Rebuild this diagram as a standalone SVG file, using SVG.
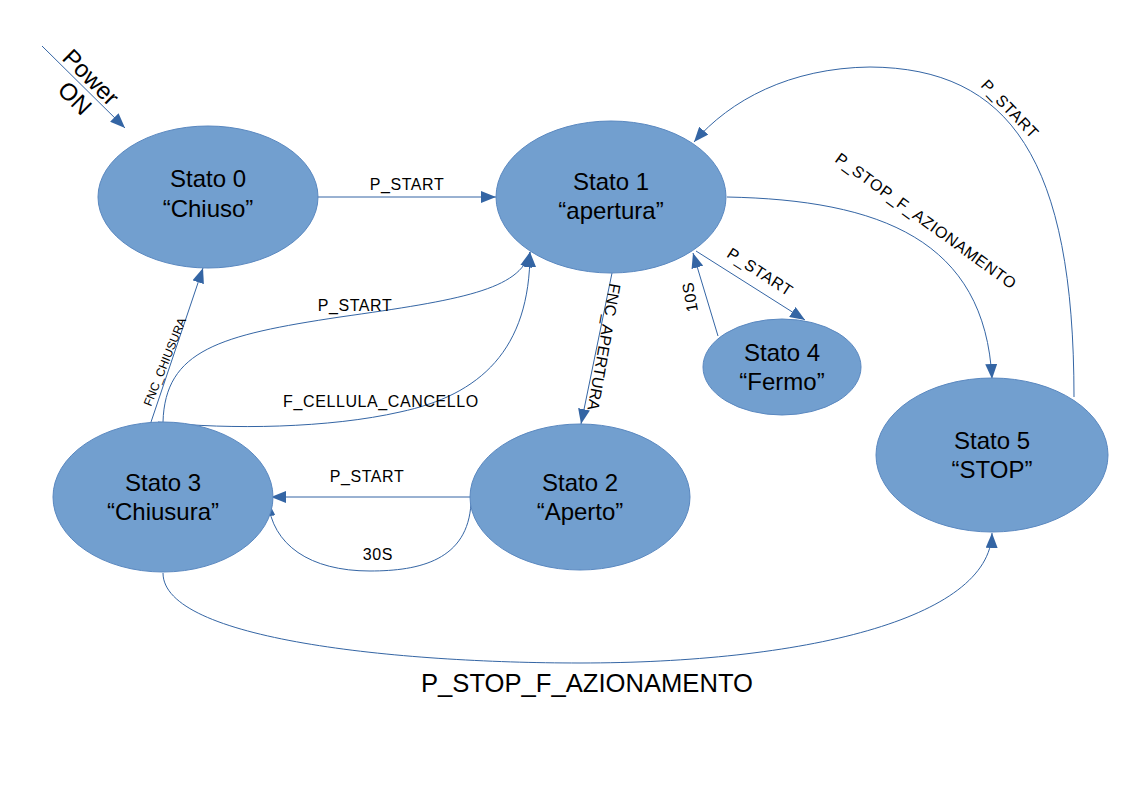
<svg xmlns="http://www.w3.org/2000/svg" width="1123" height="794" viewBox="0 0 1123 794">
<style>
.node{fill:#729fcf;stroke:#5a88c0;stroke-width:1}
.nt{font-family:"Liberation Sans",Arial,sans-serif;font-size:24px;fill:#000;text-anchor:middle}
.edge{fill:none;stroke:#3465a4;stroke-width:1;marker-end:url(#arr)}
.lbl{font-family:"Liberation Sans",Arial,sans-serif;font-size:16px;fill:#000;text-anchor:middle;letter-spacing:0.6px}
.lblc{font-family:"Liberation Sans",Arial,sans-serif;fill:#000;text-anchor:middle;dominant-baseline:central}
</style>
<defs>
<marker id="arr" markerUnits="userSpaceOnUse" markerWidth="15" markerHeight="12" refX="15" refY="6" orient="auto">
<path d="M0,0 L15,6 L0,12 z" fill="#3465a4"/>
</marker>
</defs>
<rect width="1123" height="794" fill="#fff"/>
<g id="connectors">
<path class="edge" d="M42,46 L125,128"/>
<path class="edge" d="M318,197 L496,197"/>
<path class="edge" d="M727,197 C880,200 985,240 992,379"/>
<path class="edge" d="M1074,397 C1074,160 1010,68 870,67 C790,68 730,100 694,142"/>
<path class="edge" d="M696,251 L805,320"/>
<path class="edge" d="M718,336 L693,253"/>
<path class="edge" d="M612,273 L581,424"/>
<path class="edge" d="M470,497 L271,497"/>
<path class="edge" d="M471,503 C468,560 420,571 370,571 C310,571 272,545 268,501"/>
<path class="edge" d="M150,425 L203,268"/>
<path class="edge" d="M163,422 C165,350 220,335 340,317 C460,300 520,290 530,252"/>
<path class="edge" d="M158,422 C230,430 330,428 400,412 C480,395 530,350 530,252"/>
<path class="edge" d="M163,573 C163,640 400,663 580,663 C800,663 990,620 992,533"/>
</g>
<g id="labels">
<text class="lblc" font-size="24" transform="translate(91,77) rotate(45)">Power</text>
<text class="lblc" font-size="24" transform="translate(75,98) rotate(45)">ON</text>
<text class="lbl" x="407" y="190">P_START</text>
<text class="lblc" font-size="16" letter-spacing="0.6" transform="translate(926,221) rotate(36)">P_STOP_F_AZIONAMENTO</text>
<text class="lblc" font-size="16" letter-spacing="0.6" transform="translate(1010,109) rotate(46)">P_START</text>
<text class="lblc" font-size="16" letter-spacing="0.6" transform="translate(760,272) rotate(33)">P_START</text>
<text class="lblc" font-size="16" letter-spacing="0.6" transform="translate(690,297) rotate(-100)">10S</text>
<text class="lblc" font-size="16" transform="translate(604,347) rotate(100)">FNC_APERTURA</text>
<text class="lbl" x="367" y="482">P_START</text>
<text class="lbl" x="378" y="560">30S</text>
<text class="lblc" font-size="12" transform="translate(165,362) rotate(-68)">FNC_CHIUSURA</text>
<text class="lbl" x="355" y="311">P_START</text>
<text class="lbl" x="381" y="407">F_CELLULA_CANCELLO</text>
<text x="587" y="692" font-family="'Liberation Sans',Arial,sans-serif" font-size="26" text-anchor="middle" textLength="332" lengthAdjust="spacingAndGlyphs">P_STOP_F_AZIONAMENTO</text>
</g>
<g id="stato0">
<ellipse class="node" cx="208" cy="197" rx="110" ry="71"/>
<text class="nt" x="208" y="187">Stato 0</text>
<text class="nt" x="208" y="217">“Chiuso”</text>
</g>
<g id="stato1">
<ellipse class="node" cx="611" cy="197" rx="115" ry="76"/>
<text class="nt" x="611" y="190">Stato 1</text>
<text class="nt" x="611" y="219">“apertura”</text>
</g>
<g id="stato2">
<ellipse class="node" cx="580" cy="497" rx="110" ry="73"/>
<text class="nt" x="580" y="491">Stato 2</text>
<text class="nt" x="580" y="520">“Aperto”</text>
</g>
<g id="stato3">
<ellipse class="node" cx="163" cy="497" rx="110" ry="75"/>
<text class="nt" x="163" y="491">Stato 3</text>
<text class="nt" x="163" y="520">“Chiusura”</text>
</g>
<g id="stato4">
<ellipse class="node" cx="782" cy="367" rx="79" ry="48"/>
<text class="nt" x="782" y="361">Stato 4</text>
<text class="nt" x="782" y="390">“Fermo”</text>
</g>
<g id="stato5">
<ellipse class="node" cx="992" cy="455" rx="116" ry="77"/>
<text class="nt" x="992" y="449">Stato 5</text>
<text class="nt" x="992" y="478">“STOP”</text>
</g>
</svg>
